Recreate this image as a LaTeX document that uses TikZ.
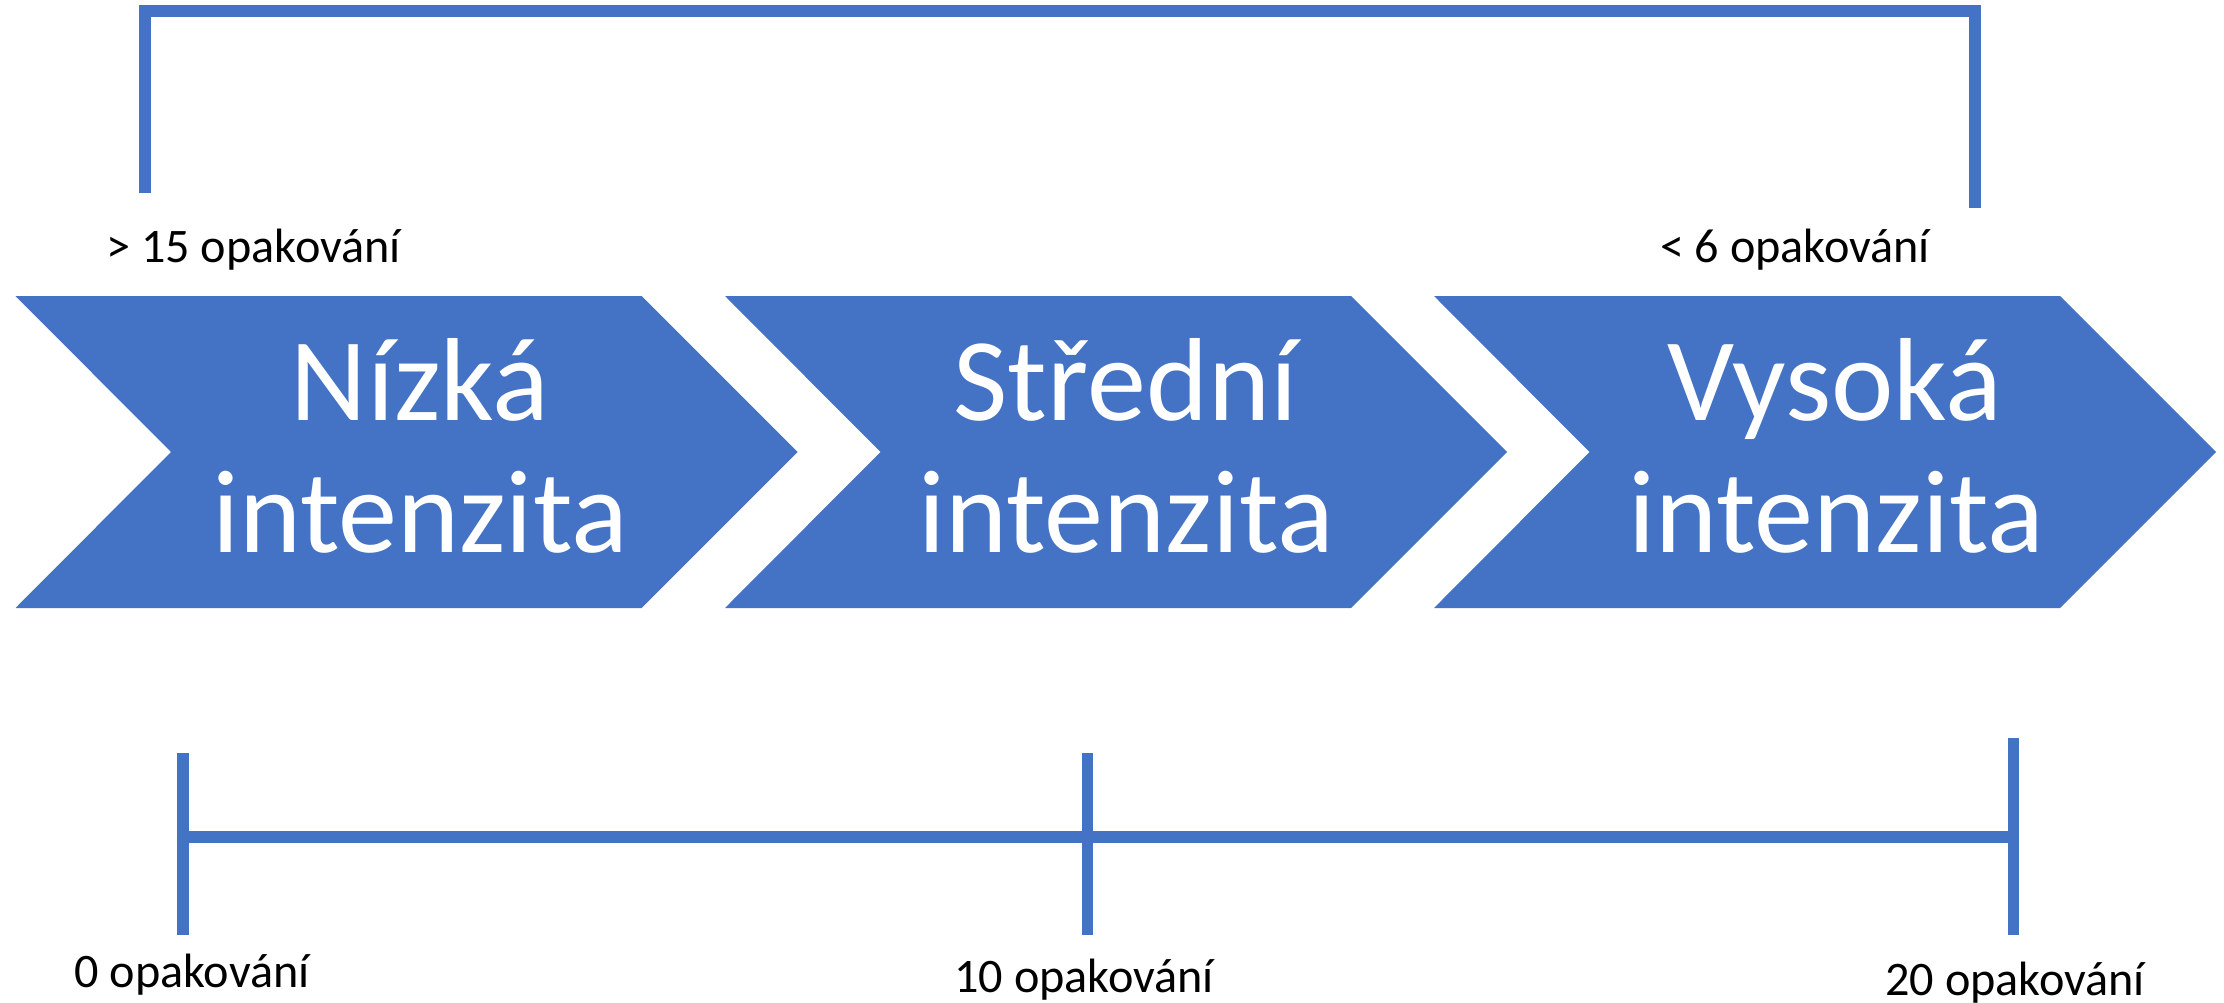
\documentclass[tikz,border=0pt]{standalone}
\usepackage{fontspec}
\setmainfont{Carlito}
\definecolor{obl}{HTML}{4472C4}
\begin{document}
\begin{tikzpicture}[x=0.01cm,y=-0.01cm,
  chev/.style={fill=obl,draw=none},
  big/.style={text=white,font=\fontsize{33.6}{40}\selectfont,anchor=base,inner sep=0pt},
  lbl/.style={text=black,font=\fontsize{13.7}{16}\selectfont,anchor=base,inner sep=0pt},
  bar/.style={draw=obl,line width=0.12cm},
  tickline/.style={draw=obl,line width=0.11cm}]
\useasboundingbox (0,0) rectangle (2224,1003);
% chevrons
\foreach \L in {15.5,725,1434}{
  \fill[chev] (\L,296) -- ({\L+626},296) -- ({\L+782},452) -- ({\L+626},608)
    -- (\L,608) -- ({\L+155.5},452) -- cycle;
}
\node[big] (n1a) at (420,420) {Nízká};
\node[big] (n1b) at (420,552) {intenzita};
\node[big] (n2a) at (1125.5,420) {Střední};
\node[big] (n2b) at (1126.5,552) {intenzita};
\node[big] (n3a) at (1835,420) {Vysoká};
\node[big] (n3b) at (1836.5,552) {intenzita};
% top bracket
\coordinate (bl) at (145,193);
\coordinate (tl) at (145,11);
\coordinate (tr) at (1975,11);
\coordinate (br) at (1975,208);
\draw[bar] (bl) -- (tl) -- (tr) -- (br);
\node[lbl] (l15) at (253.5,262) {> 15 opakování};
\node[lbl] (l6) at (1795,262) {< 6 opakování};
% bottom axis
\coordinate (a0) at (183,836.5);
\coordinate (a10) at (1087,836.5);
\coordinate (a20) at (2013,836.5);
\coordinate (a0t) at (183,753);
\coordinate (a0b) at (183,935);
\coordinate (a10t) at (1087,753);
\coordinate (a10b) at (1087,935);
\coordinate (a20t) at (2013,738);
\coordinate (a20b) at (2013,935);
\draw[bar] (a0) -- (a20);
\draw[tickline] (a0t) -- (a0b);
\draw[tickline] (a10t) -- (a10b);
\draw[tickline] (a20t) -- (a20b);
\node[lbl] (l0) at (192,987) {0 opakování};
\node[lbl] (l10) at (1084,992) {10 opakování};
\node[lbl] (l20) at (2015,995) {20 opakování};
\end{tikzpicture}
\end{document}
